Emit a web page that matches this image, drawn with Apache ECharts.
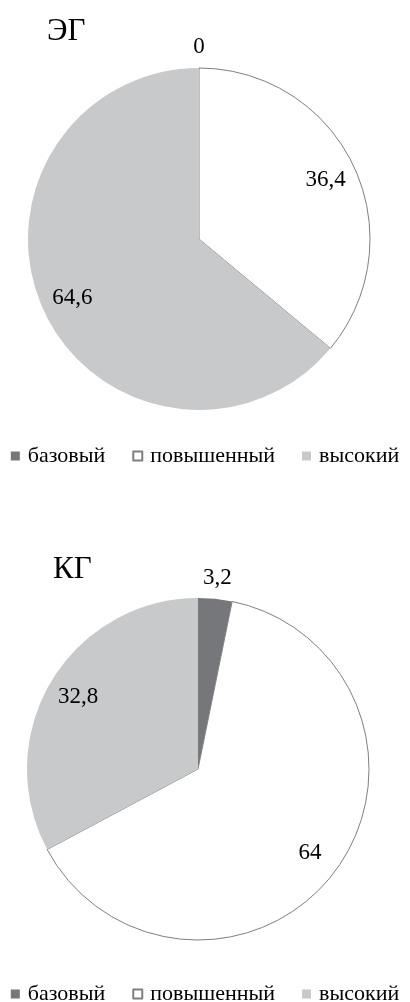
<!DOCTYPE html>
<html>
<head>
<meta charset="utf-8">
<script src="https://cdn.jsdelivr.net/npm/echarts@6/dist/echarts.min.js"></script>
<style>
  html, body { margin: 0; padding: 0; background: #fff; }
  #chart { width: 410px; height: 1002px; }
</style>
</head>
<body>
<div id="chart"></div>
<script>
const categories = ['базовый', 'повышенный', 'высокий']
const egValues = [0, 36.4, 64.6]
const kgValues = [3.2, 64, 32.8]

const font = 'Liberation Serif'
const colors = ['#76777b', '#ffffff', '#c8c9cb']
const R = 171

// запятая вместо точки
const fmt = (p) => String(p.value).replace('.', ',')

function pieData(values) {
  return values.map((v, i) => ({
    name: categories[i],
    value: v,
    itemStyle: i === 1
      ? { color: colors[i], borderColor: '#7f7f7f', borderWidth: 1 }
      : { color: colors[i], borderWidth: 0 },
  }))
}

// маленькие доли подписываем снаружи, остальные внутри
function labelData(values, outside) {
  const total = values.reduce((a, b) => a + b, 0)
  return values.map((v, i) => {
    const small = v / total < 0.05
    return {
      name: categories[i],
      value: v,
      label: { show: outside ? small : !small },
    }
  })
}

const labelStyle = { position: 'inside', formatter: fmt, color: '#000', fontFamily: font, fontSize: 23 }

function pie(center, values) {
  return [
    {
      type: 'pie',
      center: center,
      radius: [0, R],
      startAngle: 90,
      clockwise: true,
      silent: true,
      label: { show: false },
      labelLine: { show: false },
      data: pieData(values),
    },
    {
      type: 'pie',
      center: center,
      radius: [R * 0.6, R],
      silent: true,
      itemStyle: { color: 'transparent', borderWidth: 0 },
      label: labelStyle,
      labelLine: { show: false },
      data: labelData(values, false),
    },
    {
      type: 'pie',
      center: center,
      radius: [R, R + 36],
      silent: true,
      itemStyle: { color: 'transparent', borderWidth: 0 },
      label: labelStyle,
      labelLine: { show: false },
      data: labelData(values, true),
    },
  ]
}

const legendBase = {
  data: categories,
  left: 'center',
  icon: 'rect',
  itemWidth: 9,
  itemHeight: 9,
  itemGap: 27,
  padding: 0,
  selectedMode: false,
  textStyle: { color: '#000', fontFamily: font, fontSize: 22, padding: [0, 0, 0, 3] },
}

const titleStyle = { fontFamily: font, fontWeight: 'normal', fontSize: 31, color: '#000' }

const myChart = echarts.init(document.getElementById('chart'))
myChart.setOption({
  animation: false,
  backgroundColor: '#fff',
  title: [
    { text: 'ЭГ', left: 47, top: 16, padding: 0, textStyle: titleStyle },
    { text: 'КГ', left: 53, top: 554, padding: 0, textStyle: titleStyle },
  ],
  legend: [
    Object.assign({}, legendBase, { top: 445 }),
    Object.assign({}, legendBase, { top: 983 }),
  ],
  series: [...pie([199, 239], egValues), ...pie([198, 769], kgValues)],
})
</script>
</body>
</html>
